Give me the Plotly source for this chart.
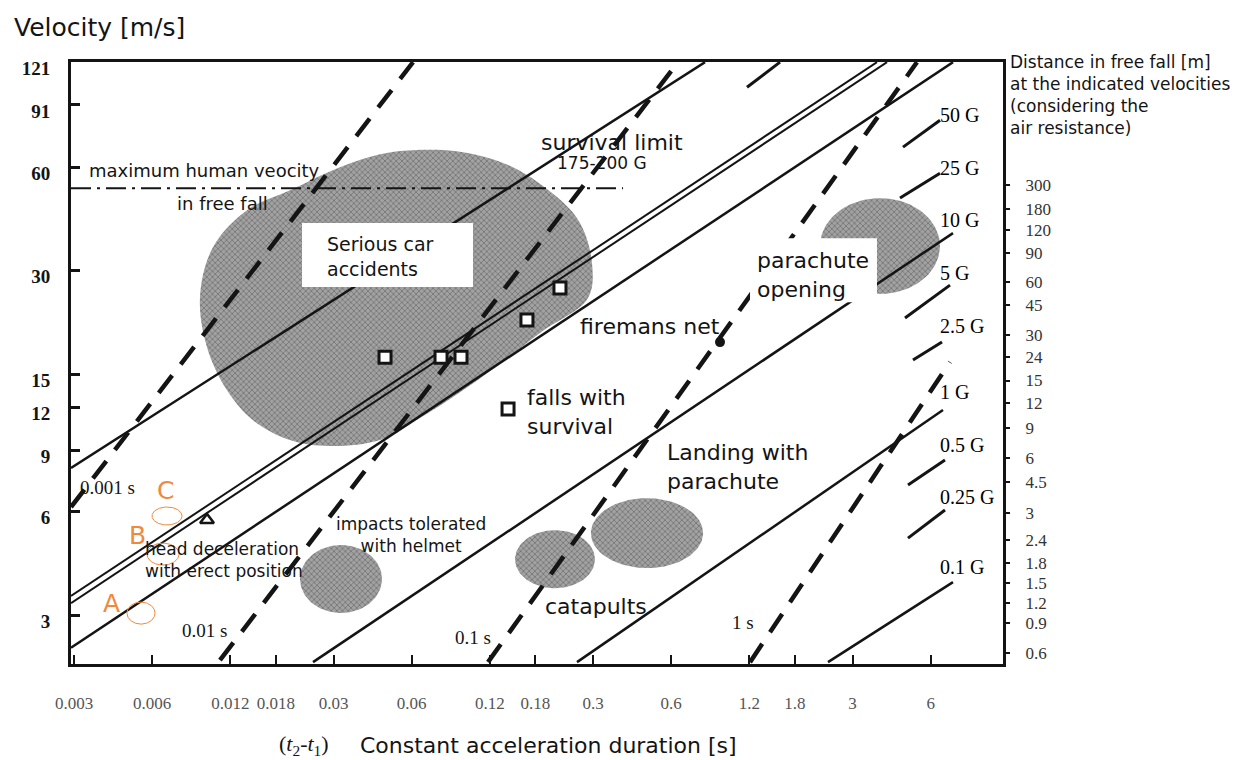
import numpy as np
import plotly.graph_objects as go

# ---------------- axes ----------------
dur_ticks = [0.003, 0.006, 0.012, 0.018, 0.03, 0.06, 0.12, 0.18, 0.3, 0.6, 1.2, 1.8, 3, 6]
dur_tick_text = ["0.003", "0.006", "0.012", "0.018", "0.03", "0.06", "0.12", "0.18",
                 "0.3", "0.6", "1.2", "1.8", "3", "6"]
vel_ticks = [3, 6, 9, 12, 15, 30, 60, 91, 121]
vel_tick_text = ["<b>3</b>", "<b>6</b>", "<b>9</b>", "<b>12</b>", "<b>15</b>", "<b>30</b>",
                 "<b>60</b>", "<b>91</b>", "<b>121</b>"]

# free-fall distance [m] and the velocity [m/s] it is marked against
fall_dist_text = ["300", "180", "120", "90", "60", "45", "30", "24", "15", "12",
                  "9", "6", "4.5", "3", "2.4", "1.8", "1.5", "1.2", "0.9", "0.6"]
fall_dist_vel = [53.2, 45.3, 39.4, 33.8, 27.8, 23.9, 19.5, 16.8, 14.4, 12.4,
                 10.5, 8.57, 7.30, 5.94, 4.95, 4.25, 3.72, 3.25, 2.84, 2.33]

t_range = (0.00292, 11.40)      # s
v_range = (2.163, 121.2)        # m/s

# ---------------- constant-acceleration lines (solid) ----------------
iso_g_name = ["1000 G", "200 G", "175 G", "100 G", "10 G", "1 G", "0.1 G"]
iso_g_t = [(0.00292, 0.8101), (0.00292, 3.726), (0.00292, 4.073), (0.00292, 7.314),
           (0.0250, 7.314), (0.2602, 6.693), (2.413, 7.314)]
iso_g_v = [(8.02, 121.06), (3.41, 121.06), (3.25, 121.06), (2.41, 121.06),
           (2.19, 38.6), (2.19, 11.82), (2.19, 3.74)]
iso_g_width = [2.5, 2.0, 2.0, 2.5, 2.5, 2.5, 2.5]

# short indicator strokes next to the G labels
g_mark_name = ["500 G", "50 G", "25 G", "5 G", "2.5 G", "0.5 G", "0.25 G"]
g_mark_t = [(1.176, 1.576), (4.694, 6.518), (4.571, 6.518), (4.778, 7.122),
            (5.129, 6.635), (4.907, 6.813), (4.907, 6.813)]
g_mark_v = [(102.4, 121.06), (68.6, 82.1), (48.8, 57.6), (21.87, 27.26),
            (16.51, 18.62), (7.16, 8.46), (5.02, 6.06)]

# ---------------- constant-duration lines (dashed) ----------------
dur_line_name = ["0.001 s", "0.01 s", "0.1 s", "1 s"]
dur_line_t = [(0.00292, 0.06073), (0.01095, 0.6372), (0.1181, 5.314), (1.208, 7.122)]
dur_line_v = [(6.18, 121.06), (2.22, 121.06), (2.19, 121.06), (2.19, 16.29)]

# maximum human velocity in free fall
max_fall_v = 52.1
max_fall_t = (0.00292, 0.3915)

# ---------------- observations ----------------
falls_t = [0.04737, 0.07786, 0.09296, 0.1669, 0.2237, 0.1411]
falls_v = [16.84, 16.84, 16.84, 21.58, 26.72, 11.90]
head_t, head_v = [0.009761], [5.67]
net_t, net_v = [0.9254], [18.62]

# serious car accidents region (outline)
car_t = [0.06073, 0.09462, 0.1474, 0.2179, 0.2672, 0.2972, 0.2868, 0.1874, 0.1100,
         0.06461, 0.04531, 0.02907, 0.02039, 0.01468, 0.01166, 0.009761, 0.009174,
         0.01029, 0.01392, 0.02039, 0.03177, 0.04531]
car_v = [67.2, 66.3, 60.0, 49.1, 41.3, 31.6, 25.0, 19.8, 14.6,
         11.2, 9.67, 9.29, 9.67, 11.05, 13.5, 18.0, 25.2,
         35.1, 45.0, 51.4, 60.0, 65.4]

# elliptical regions: centre (s, m/s) and half-extent in decades
region_name = ["impacts tolerated with helmet", "catapults", "catapults", "parachute opening"]
region_t = [0.03205, 0.2140, 0.4842, 3.827]
region_v = [3.82, 4.36, 5.19, 35.4]
region_half_w = [0.158, 0.154, 0.216, 0.231]
region_half_h = [0.0987, 0.0842, 0.1016, 0.139]

# highlighted cases A, B, C
case_name = ["A", "B", "C"]
case_t = [0.005435, 0.006607, 0.006846]
case_v = [3.04, 4.51, 5.82]
case_half_w = [0.054, 0.0617, 0.0578]
case_half_h = [0.0319, 0.0319, 0.0261]
case_label_t = [0.004165, 0.005246, 0.006726]
case_label_v = [3.25, 5.12, 6.92]

# white label panels
car_box_t, car_box_v = (0.02268, 0.1034), (26.9, 41.3)
chute_box_t, chute_box_v = (1.208, 3.726), (24.3, 37.3)

# ---------------- styling ----------------
INK = "#141414"
SANS = "DejaVu Sans"
SERIF = "Liberation Serif"
ORANGE = "#EE8A3C"
BLOB = dict(shape="x", fgcolor="#474747", bgcolor="#a2a2a2", size=4, solidity=0.38)

fig = go.Figure()


def add_line(ts, vs, **line):
    fig.add_trace(go.Scatter(x=list(ts), y=list(vs), mode="lines", line=line,
                             hoverinfo="skip", showlegend=False))


def ellipse(tc, vc, hw, hh, n=121):
    a = np.linspace(0, 2 * np.pi, n)
    return 10 ** (np.log10(tc) + hw * np.cos(a)), 10 ** (np.log10(vc) + hh * np.sin(a))


# shaded regions
fig.add_trace(go.Scatter(x=car_t + car_t[:1], y=car_v + car_v[:1], mode="lines",
                         line=dict(width=0, shape="spline", smoothing=1.0),
                         fill="toself", fillcolor="#8f8f8f", fillpattern=BLOB,
                         hoverinfo="skip", showlegend=False))
for tc, vc, hw, hh in zip(region_t, region_v, region_half_w, region_half_h):
    ex, ey = ellipse(tc, vc, hw, hh)
    fig.add_trace(go.Scatter(x=ex, y=ey, mode="lines", line=dict(width=0),
                             fill="toself", fillcolor="#8f8f8f", fillpattern=BLOB,
                             hoverinfo="skip", showlegend=False))

# acceleration lines
for ts, vs, w in zip(iso_g_t, iso_g_v, iso_g_width):
    add_line(ts, vs, color=INK, width=w)
for ts, vs in zip(g_mark_t, g_mark_v):
    add_line(ts, vs, color=INK, width=3)
# duration lines
for ts, vs in zip(dur_line_t, dur_line_v):
    add_line(ts, vs, color=INK, width=4.5, dash="22px,14px")
# free-fall limit
add_line(max_fall_t, (max_fall_v, max_fall_v), color=INK, width=2, dash="20px,6px,3px,6px")

# white panels behind labels
for bt, bv in [(car_box_t, car_box_v), (chute_box_t, chute_box_v)]:
    fig.add_trace(go.Scatter(x=[bt[0], bt[1], bt[1], bt[0], bt[0]],
                             y=[bv[0], bv[0], bv[1], bv[1], bv[0]],
                             mode="lines", line=dict(width=0), fill="toself",
                             fillcolor="white", hoverinfo="skip", showlegend=False))

# case outlines
for tc, vc, hw, hh in zip(case_t, case_v, case_half_w, case_half_h):
    ex, ey = ellipse(tc, vc, hw, hh)
    add_line(ex, ey, color=ORANGE, width=1)

# markers
fig.add_trace(go.Scatter(x=falls_t, y=falls_v, mode="markers", hoverinfo="skip",
                         marker=dict(symbol="square", size=12, color="white",
                                     line=dict(color=INK, width=3)), showlegend=False))
fig.add_trace(go.Scatter(x=head_t, y=head_v, mode="markers", hoverinfo="skip",
                         marker=dict(symbol="triangle-up-open", size=12, color=INK,
                                     line=dict(width=2.5)), showlegend=False))
fig.add_trace(go.Scatter(x=net_t, y=net_v, mode="markers", hoverinfo="skip",
                         marker=dict(symbol="circle", size=10, color=INK), showlegend=False))
# right-hand distance scale
fig.add_trace(go.Scatter(x=[0.01] * len(fall_dist_vel), y=fall_dist_vel, yaxis="y2",
                         mode="markers", marker=dict(opacity=0), hoverinfo="skip",
                         showlegend=False))


def label(text, t, v, size=22, family=SANS, anchor="left", color=INK):
    fig.add_annotation(x=np.log10(t), y=np.log10(v), xref="x", yref="y", text=text,
                       showarrow=False, xanchor=anchor, yanchor="middle", align=anchor,
                       font=dict(family=family, size=size, color=color))


label("maximum human veocity", 0.003366, 58.8, size=18)
label("in free fall", 0.01115, 47.2, size=18, anchor="center")
label("survival limit", 0.3549, 70.9, anchor="center")
label("175-200 G", 0.3248, 61.6, size=17, anchor="center")
label("Serious car<br>accidents", 0.0278, 33.1, size=19)
label("firemans net", 0.2625, 20.6)
label("falls with<br>survival", 0.164, 11.66)
label("Landing with<br>parachute", 0.5678, 8.07)
label("parachute<br>opening", 1.2623, 29.1)
label("impacts tolerated<br>with helmet", 0.05966, 5.12, size=17, anchor="center")
label("head deceleration<br>with erect position", 0.005533, 4.34, size=17)
label("catapults", 0.1924, 3.17)

for txt, t, v in zip(dur_line_name, [0.003108, 0.007683, 0.08658, 1.0111], [7.02, 2.715, 2.59, 2.846]):
    label(txt, t, v, size=19, family=SERIF)

for txt, t in zip(["1000 G", "500 G", "250 G", "100 G"], [0.6042, 1.2967, 2.6363, 5.8076]):
    label(txt, t, 133.8, size=20, family=SERIF, color="#000000")
for txt, v in zip(["50 G", "25 G", "10 G", "5 G", "2.5 G", "1 G", "0.5 G", "0.25 G", "0.1 G"],
                  [84.9, 59.6, 42.1, 29.5, 20.7, 13.33, 9.35, 6.60, 4.14]):
    label(txt, 6.4036, v, size=20, family=SERIF, color="#000000")

for txt, t, v in zip(case_name, case_label_t, case_label_v):
    label(txt, t, v, size=25, anchor="center", color=ORANGE)

# titles
fig.add_annotation(x=-0.0633, y=1.0581, xref="paper", yref="paper", text="Velocity [m/s]",
                   showarrow=False, xanchor="left", yanchor="middle",
                   font=dict(family=SANS, size=25, color=INK))
fig.add_annotation(x=1.0054, y=1.020, xref="paper", yref="paper",
                   text="Distance in free fall [m]<br>at the indicated velocities<br>"
                        "(considering the<br>air resistance)",
                   showarrow=False, xanchor="left", yanchor="top", align="left",
                   font=dict(family=SANS, size=17, color=INK))
fig.add_annotation(x=0.221, y=-0.1346, xref="paper", yref="paper",
                   text="(<i>t</i><sub>2</sub>-<i>t</i><sub>1</sub>)",
                   showarrow=False, xanchor="left", yanchor="middle",
                   font=dict(family=SERIF, size=22, color=INK))
fig.add_annotation(x=0.308, y=-0.1346, xref="paper", yref="paper",
                   text="Constant acceleration duration [s]",
                   showarrow=False, xanchor="left", yanchor="middle",
                   font=dict(family=SANS, size=22, color=INK))

v_log_range = [np.log10(v_range[0]), np.log10(v_range[1])]
fig.update_layout(
    width=1258, height=760,
    margin=dict(l=71, r=255, t=62, b=96),
    paper_bgcolor="white", plot_bgcolor="white",
    showlegend=False,
    xaxis=dict(type="log", range=[np.log10(t_range[0]), np.log10(t_range[1])],
               tickvals=dur_ticks, ticktext=dur_tick_text, ticks="inside", ticklen=9,
               tickwidth=2, tickcolor=INK, showline=True, linewidth=3, linecolor=INK,
               mirror=True, showgrid=False, zeroline=False, ticklabelstandoff=22,
               tickfont=dict(family=SERIF, size=17, color="#555555")),
    yaxis=dict(type="log", range=v_log_range, tickvals=vel_ticks, ticktext=vel_tick_text,
               ticks="inside", ticklen=9, tickwidth=2.5, tickcolor=INK, showline=True,
               linewidth=3, linecolor=INK, mirror=True, showgrid=False, zeroline=False,
               ticklabelstandoff=14, ticklabelshift=6,
               tickfont=dict(family=SERIF, size=19, color=INK)),
    yaxis2=dict(type="log", range=v_log_range, overlaying="y", side="right", anchor="x",
                tickvals=fall_dist_vel, ticktext=fall_dist_text, ticks="outside", ticklen=6,
                tickwidth=2, tickcolor=INK, showline=False, showgrid=False, zeroline=False,
                ticklabelstandoff=12, tickfont=dict(family=SERIF, size=17, color="#333333")),
)

fig.write_html("out.html")
